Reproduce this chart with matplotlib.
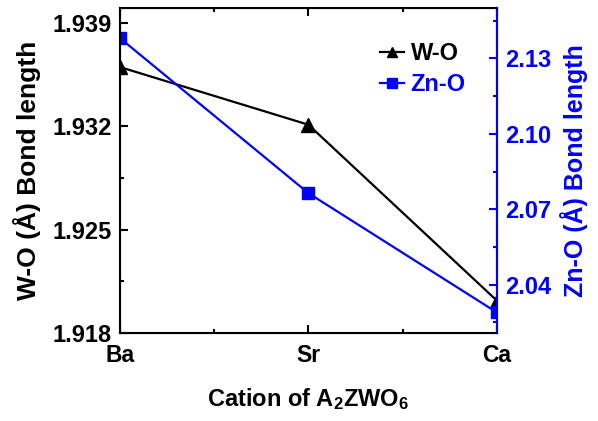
import matplotlib
matplotlib.use("Agg")
import matplotlib.pyplot as plt
from matplotlib.ticker import MultipleLocator, AutoMinorLocator, FormatStrFormatter

matplotlib.rcParams['font.family'] = 'Liberation Sans'
matplotlib.rcParams['font.weight'] = 'bold'
matplotlib.rcParams['axes.labelweight'] = 'bold'
matplotlib.rcParams['mathtext.fontset'] = 'custom'
matplotlib.rcParams['mathtext.rm'] = 'Liberation Sans:bold'
matplotlib.rcParams['mathtext.bf'] = 'Liberation Sans:bold'
matplotlib.rcParams['mathtext.it'] = 'Liberation Sans:bold'

cations = ['Ba', 'Sr', 'Ca']
w_o = [1.9360, 1.9321, 1.9202]
zn_o = [2.1380, 2.0764, 2.0290]

blue = '#0000ff'

fig = plt.figure(figsize=(5.98, 4.21), dpi=100)
ax1 = fig.add_axes([0.2007, 0.209, 0.630, 0.772])
x = list(range(len(cations)))

l1, = ax1.plot(x, w_o, color='black', lw=1.6, marker='^', ms=10, label='W-O')
ax1.set_xlim(0, 2)
ax1.set_ylim(1.918, 1.9400)
ax1.set_xticks(x)
ax1.set_xticklabels(cations)
ax1.xaxis.set_minor_locator(AutoMinorLocator(2))
ax1.yaxis.set_major_locator(MultipleLocator(0.007))
ax1.yaxis.set_minor_locator(MultipleLocator(0.0035))
ax1.yaxis.set_major_formatter(FormatStrFormatter('%.3f'))
ax1.tick_params(axis='both', which='both', direction='in', top=True, width=1.5)
ax1.tick_params(which='major', length=6)
ax1.tick_params(which='minor', length=3)
ax1.tick_params(axis='y', pad=6, labelsize=17)
ax1.tick_params(axis='x', pad=8, labelsize=16.5)
for s in ax1.spines.values():
    s.set_linewidth(1.5)
ax1.set_ylabel('W-O (Å) Bond length', fontsize=19, labelpad=8)
ax1.set_xlabel(r'Cation of A$_2$ZWO$_6$', fontsize=17, labelpad=14)

ax2 = ax1.twinx()
l2, = ax2.plot(x, zn_o, color=blue, lw=1.6, marker='s', ms=9, label='Zn-O')
ax2.set_ylim(2.0208, 2.150)
ax2.yaxis.set_major_locator(MultipleLocator(0.03))
ax2.yaxis.set_minor_locator(MultipleLocator(0.015))
ax2.yaxis.set_major_formatter(FormatStrFormatter('%.2f'))
ax2.tick_params(axis='y', which='both', direction='in', colors=blue, labelsize=17, width=1.5, pad=6)
ax2.tick_params(which='major', length=6)
ax2.tick_params(which='minor', length=3)
ax2.spines['right'].set_color(blue)
ax2.spines['right'].set_linewidth(1.5)
ax2.set_ylabel('Zn-O (Å) Bond length', fontsize=18, color=blue, labelpad=6)

leg = ax1.legend([l1, l2], ['W-O', 'Zn-O'], loc='upper left', bbox_to_anchor=(0.665, 0.925),
                 frameon=False, fontsize=17, handlelength=1.0, handletextpad=0.3,
                 labelspacing=0.35, markerscale=0.75, borderaxespad=0)
for t, c in zip(leg.get_texts(), ['black', blue]):
    t.set_color(c)

fig.savefig('out.png', dpi=100)
